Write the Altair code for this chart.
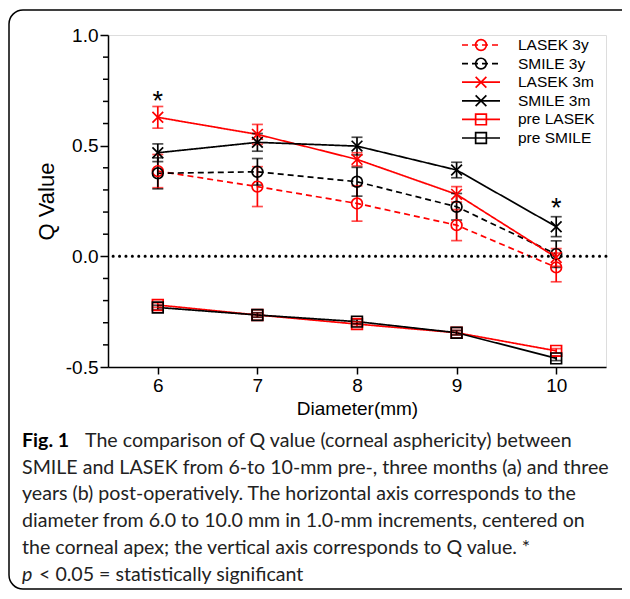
import altair as alt
import pandas as pd

# ---------------- data ----------------
diameters = [6, 7, 8, 9, 10]
series_names = ["LASEK 3y", "SMILE 3y", "LASEK 3m", "SMILE 3m", "pre LASEK", "pre SMILE"]

lasek_3y = [0.385, 0.315, 0.239, 0.141, -0.050]
lasek_3y_err = [0.075, 0.090, 0.080, 0.070, 0.065]
smile_3y = [0.375, 0.382, 0.337, 0.224, 0.010]
smile_3y_err = [0.070, 0.060, 0.065, 0.060, 0.060]
lasek_3m = [0.628, 0.551, 0.438, 0.280, -0.005]
lasek_3m_err = [0.049, 0.045, 0.030, 0.035, 0.040]
smile_3m = [0.468, 0.515, 0.498, 0.390, 0.134]
smile_3m_err = [0.040, 0.040, 0.040, 0.035, 0.045]
pre_lasek = [-0.220, -0.265, -0.306, -0.345, -0.427]
pre_lasek_err = [0.010, 0.010, 0.010, 0.010, 0.010]
pre_smile = [-0.231, -0.265, -0.295, -0.345, -0.461]
pre_smile_err = [0.010, 0.010, 0.010, 0.010, 0.010]

star_x = [6, 10]
star_y = [0.724, 0.242]

y_major_ticks = [-0.5, 0.0, 0.5, 1.0]
y_minor_ticks = [-0.4, -0.3, -0.2, -0.1, 0.1, 0.2, 0.3, 0.4, 0.6, 0.7, 0.8, 0.9]
x_tick_values = [6, 7, 8, 9, 10]

caption_lines = [
    "The comparison of Q value (corneal asphericity) between",
    "SMILE and LASEK from 6-to 10-mm pre-, three months (a) and three",
    "years (b) post-operatively. The horizontal axis corresponds to the",
    "diameter from 6.0 to 10.0 mm in 1.0-mm increments, centered on",
    "the corneal apex; the vertical axis corresponds to Q value. *",
    "< 0.05 = statistically significant",
]

# ---------------- styles ----------------
RED = "#ff0000"
BLACK = "#000000"
series_colors = [RED, BLACK, RED, BLACK, RED, BLACK]
series_dash = [[6, 4], [6, 4], [1, 0], [1, 0], [1, 0], [1, 0]]
X_PATH = "M-1,-1L1,1M-1,1L1,-1"
series_shapes = ["circle", "circle", X_PATH, X_PATH, "square", "square"]

values = [lasek_3y, smile_3y, lasek_3m, smile_3m, pre_lasek, pre_smile]
errors = [lasek_3y_err, smile_3y_err, lasek_3m_err, smile_3m_err, pre_lasek_err, pre_smile_err]

rows = []
for name, vals, errs in zip(series_names, values, errors):
    for d, v, e in zip(diameters, vals, errs):
        rows.append({"series": name, "diameter": d, "q": v, "lo": v - e, "hi": v + e})
df = pd.DataFrame(rows)

AX_FONT = "Liberation Sans"
CAP_FONT = "Lato"
CAP_SIZE = 19.6
SW = 1.7

xscale = alt.Scale(domain=[5.5, 10.5], nice=False, zero=False)
yscale = alt.Scale(domain=[-0.5, 1.0], nice=False, zero=False)

color = alt.Color("series:N", scale=alt.Scale(domain=series_names, range=series_colors), legend=None)
dash = alt.StrokeDash("series:N", scale=alt.Scale(domain=series_names, range=series_dash), legend=None)
shape = alt.Shape("series:N", scale=alt.Scale(domain=series_names, range=series_shapes), legend=None)

label_expr = "(datum.value < 0 ? '-' : '') + format(abs(datum.value), '.1f')"

x_axis = alt.Axis(values=x_tick_values, format="d", title="Diameter(mm)",
                  labelFont=AX_FONT, labelFontSize=19, labelColor="black", labelPadding=2,
                  tickSize=7, tickWidth=1.5, tickColor="black",
                  domainColor="black", domainWidth=1.5, grid=False,
                  titleFont=AX_FONT, titleFontSize=19, titleFontWeight="normal",
                  titleColor="black", titlePadding=4)
y_axis = alt.Axis(values=y_major_ticks, title="Q Value", labelExpr=label_expr,
                  labelOverlap=False, labelFlush=False,
                  labelFont=AX_FONT, labelFontSize=19, labelColor="black", labelPadding=2,
                  tickSize=8, tickWidth=1.5, tickColor="black",
                  domainColor="black", domainWidth=1.5, grid=False,
                  titleFont=AX_FONT, titleFontSize=22, titleFontWeight="normal",
                  titleColor="black", titlePadding=7)

base = alt.Chart(df)

lines = base.mark_line(strokeWidth=SW).encode(
    x=alt.X("diameter:Q", scale=xscale, axis=x_axis),
    y=alt.Y("q:Q", scale=yscale, axis=y_axis),
    color=color, strokeDash=dash, detail="series:N", order="diameter:Q")
bars = base.mark_rule(strokeWidth=SW).encode(x="diameter:Q", y="lo:Q", y2="hi:Q", color=color)
caps_lo = base.mark_tick(orient="horizontal", size=11, thickness=SW).encode(
    x="diameter:Q", y="lo:Q", color=color)
caps_hi = base.mark_tick(orient="horizontal", size=11, thickness=SW).encode(
    x="diameter:Q", y="hi:Q", color=color)
points = base.mark_point(filled=False, size=115, strokeWidth=SW, opacity=1).encode(
    x="diameter:Q", y="q:Q", color=color, shape=shape)

zero = alt.Chart(pd.DataFrame({"q": [0.0]})).mark_rule(
    color="black", strokeWidth=3, strokeDash=[0.1, 6.3], strokeCap="round").encode(
    y=alt.Y("q:Q", axis=y_axis))

minor = alt.Chart(pd.DataFrame({"q": y_minor_ticks})).mark_tick(
    orient="horizontal", size=5, thickness=1.5, color="black", opacity=1).encode(
    x=alt.value(-2.5), y=alt.Y("q:Q", axis=y_axis))

stars = alt.Chart(pd.DataFrame({"diameter": star_x, "q": star_y, "t": ["*", "*"]})).mark_text(
    font=AX_FONT, fontSize=27, baseline="alphabetic", dy=14, color="black").encode(
    x="diameter:Q", y="q:Q", text="t:N")

layers = [lines, zero, minor, bars, caps_lo, caps_hi, points, stars]

# ---------------- legend (manual) ----------------
leg_y0 = 10
leg_dy = 18.6
for i, name in enumerate(series_names):
    ly = leg_y0 + i * leg_dy
    one = alt.Chart(pd.DataFrame({"series": [name]}))
    layers.append(one.mark_rule(strokeWidth=SW, strokeDash=series_dash[i], color=series_colors[i]).encode(
        x=alt.value(354), x2=alt.value(392), y=alt.value(ly)))
    layers.append(one.mark_point(filled=False, size=115, strokeWidth=SW, opacity=1,
                                 shape=series_shapes[i], color=series_colors[i]).encode(
        x=alt.value(373), y=alt.value(ly)))
    layers.append(one.mark_text(font=AX_FONT, fontSize=15.5, align="left", baseline="middle",
                                color="black").encode(
        x=alt.value(410), y=alt.value(ly), text="series:N"))

# ---------------- outer frame and caption ----------------
frame = alt.Chart(pd.DataFrame({"a": [0]})).mark_rect(
    fillOpacity=0, stroke="black", strokeWidth=1.5, cornerRadius=14).encode(
    x=alt.value(-99), x2=alt.value(540), y=alt.value(-25), y2=alt.value(554))
layers.append(frame)

cap_x = -86
cap_y0 = 412
cap_dy = 26.7
layers.append(alt.Chart(pd.DataFrame({"t": ["Fig. 1"]})).mark_text(
    font=CAP_FONT, fontSize=CAP_SIZE, fontWeight="bold", align="left", baseline="alphabetic",
    color="black").encode(x=alt.value(cap_x), y=alt.value(cap_y0), text="t:N"))
for i, line in enumerate(caption_lines):
    xx = cap_x
    if i == 0:
        xx = -23
    if i == 5:
        xx = -69
    layers.append(alt.Chart(pd.DataFrame({"t": [line]})).mark_text(
        font=CAP_FONT, fontSize=CAP_SIZE, align="left", baseline="alphabetic", color="#222222").encode(
        x=alt.value(xx), y=alt.value(cap_y0 + i * cap_dy), text="t:N"))
layers.append(alt.Chart(pd.DataFrame({"t": ["p"]})).mark_text(
    font=CAP_FONT, fontSize=CAP_SIZE, fontStyle="italic", align="left", baseline="alphabetic",
    color="#222222").encode(x=alt.value(cap_x), y=alt.value(cap_y0 + 5 * cap_dy), text="t:N"))

chart = alt.layer(*layers).properties(
    width=498, height=332,
    padding={"left": 100, "top": 27, "right": 16, "bottom": 224},
    autosize="none",
).configure_view(stroke="black", strokeWidth=1.5).configure(background="white")

chart.save("out.html", embed_options={"renderer": "svg", "actions": False})
